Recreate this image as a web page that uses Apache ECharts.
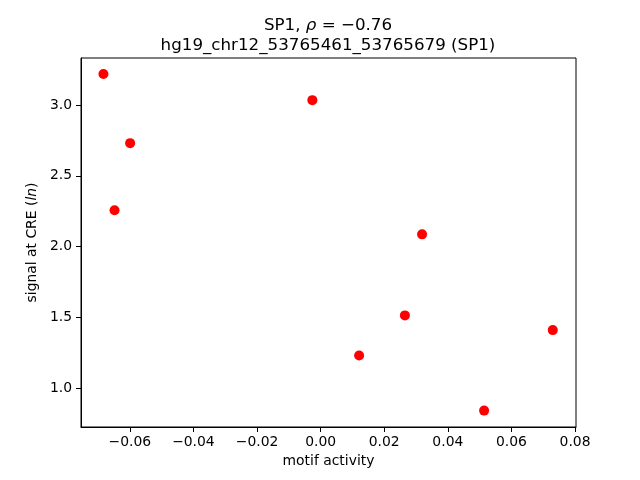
<!DOCTYPE html>
<html><head><meta charset="utf-8">
<script src="https://cdn.jsdelivr.net/npm/echarts@6/dist/echarts.min.js"></script>
<style>html,body{margin:0;padding:0;background:#fff}#c{width:640px;height:480px}</style>
</head><body><div id="c"></div>
<script>
const motifActivity = [-0.0683, -0.0599, -0.0648, -0.0026, 0.0319, 0.0265, 0.0121, 0.0514, 0.0730];
const signalAtCRE = [3.220, 2.731, 2.256, 3.035, 2.086, 1.513, 1.230, 0.840, 1.409];
const xTicks = [-0.06, -0.04, -0.02, 0.00, 0.02, 0.04, 0.06, 0.08];
const yTicks = [1.0, 1.5, 2.0, 2.5, 3.0];
const titleLine1 = 'SP1, {i|ρ} = −0.76';
const titleLine2 = 'hg19_chr12_53765461_53765679 (SP1)';

const FONT = 'DejaVu Sans';
const fmtX = v => (v < 0 ? '\u2212' : '') + Math.abs(v).toFixed(2);
const fmtY = v => v.toFixed(1);

const chart = echarts.init(document.getElementById('c'), null, {renderer: 'canvas'});
chart.setOption({
  animation: false,
  backgroundColor: '#fff',
  title: {
    text: titleLine1 + '\n' + titleLine2,
    left: 323, top: 11, textAlign: 'center',
    textStyle: {
      fontFamily: FONT, fontSize: 16.7, fontWeight: 'normal', color: '#000', lineHeight: 20,
      rich: { i: {fontFamily: FONT, fontSize: 16.7, fontStyle: 'italic', color: '#000', lineHeight: 20} }
    }
  },
  grid: { left: 81, right: 64, top: 58, bottom: 53, show: true, borderColor: '#000', borderWidth: 1, containLabel: false },
  xAxis: {
    type: 'value', min: -0.07535, max: 0.0803,
    splitLine: {show: false},
    axisLine: {show: true, onZero: false, lineStyle: {color: '#000', width: 1}},
    axisTick: {show: true, length: 5, lineStyle: {color: '#000'}, customValues: xTicks},
    axisLabel: {fontFamily: FONT, fontSize: 13.9, color: '#000', margin: 8, customValues: xTicks, formatter: fmtX},
    name: 'motif activity', nameLocation: 'middle', nameGap: 27,
    nameTextStyle: {fontFamily: FONT, fontSize: 13.9, color: '#000'}
  },
  yAxis: {
    type: 'value', min: 0.724, max: 3.333,
    splitLine: {show: false},
    axisLine: {show: true, onZero: false, lineStyle: {color: '#000', width: 1}},
    axisTick: {show: true, length: 5, lineStyle: {color: '#000'}, customValues: yTicks},
    axisLabel: {fontFamily: FONT, fontSize: 13.9, color: '#000', margin: 9, customValues: yTicks, formatter: fmtY},
    name: 'signal at CRE ({i|ln})', nameLocation: 'middle', nameGap: 41,
    nameTextStyle: {fontFamily: FONT, fontSize: 13.9, color: '#000',
      rich: {i: {fontFamily: FONT, fontSize: 13.9, fontStyle: 'italic', color: '#000'}}}
  },
  series: [{
    type: 'scatter',
    data: motifActivity.map((x, i) => [x, signalAtCRE[i]]),
    symbol: 'circle', symbolSize: 10,
    itemStyle: {color: '#ff0000', opacity: 1}
  }]
});
</script></body></html>
